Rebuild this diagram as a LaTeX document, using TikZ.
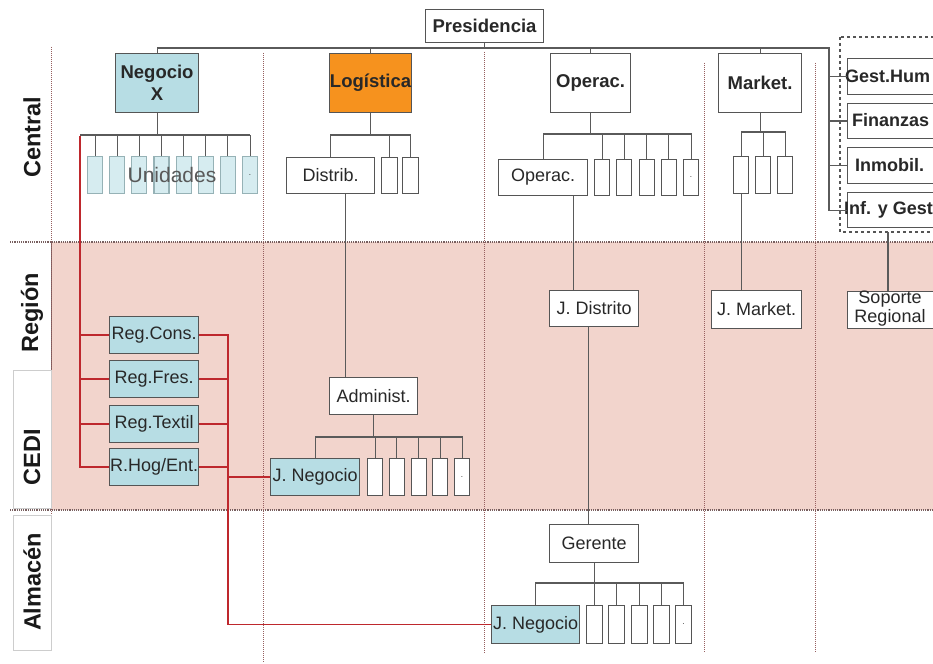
\documentclass[tikz,border=0pt]{standalone}
\usepackage{fontspec}
\setmainfont{Liberation Sans}
\newcommand{\regfont}{\fontsize{18}{20}\selectfont}
\newcommand{\boldfont}{\fontsize{18.5}{22}\selectfont\bfseries}
\newcommand{\sidefont}{\fontsize{18}{20}\selectfont\bfseries}
\newcommand{\labfont}{\fontsize{23.5}{25}\selectfont\bfseries}
\definecolor{boxc}{RGB}{85,85,85}
\definecolor{linec}{RGB}{90,90,90}
\definecolor{txt}{RGB}{40,40,40}
\definecolor{lblue}{RGB}{183,221,228}
\definecolor{fblue}{RGB}{214,236,240}
\definecolor{fborder}{RGB}{150,178,182}
\definecolor{orng}{RGB}{246,146,30}
\definecolor{pinkband}{RGB}{242,212,204}
\definecolor{redc}{RGB}{190,40,45}
\definecolor{sepc}{RGB}{150,95,95}
\definecolor{bandline}{RGB}{120,95,95}
\definecolor{labc}{RGB}{205,205,205}
\tikzset{
  box/.style={draw=boxc, line width=1.1pt, fill=white, inner sep=0pt,
    anchor=north west, text=txt, font=\regfont, align=center},
  bbox/.style={box, font=\boldfont},
  slot/.style={box, minimum width=15pt, minimum height=37pt},
  unit/.style={slot, draw=fborder, fill=fblue},
  conn/.style={draw=linec, line width=1.1pt},
  redl/.style={draw=redc, line width=1.6pt},
  sepline/.style={draw=sepc, line width=1pt, densely dotted},
  bandl/.style={draw=bandline, line width=1.2pt, densely dotted},
  lab/.style={font=\labfont, text=black!90, rotate=90, inner sep=0pt},
  sidetxt/.style={font=\sidefont, text=txt, anchor=west, inner sep=0pt},
}
\begin{document}
\begin{tikzpicture}[x=1pt,y=-1pt]
\useasboundingbox (0,0) rectangle (933,663);
\clip (0,0) rectangle (933,663);
\fill[white] (0,0) rectangle (933,663);

% regional / CEDI band
\fill[pinkband] (51,242) rectangle (940,510);
\draw[bandl] (10,242) -- (940,242);
\draw[bandl] (10,510) -- (940,510);
\draw[line width=1pt, bandline] (51,242) -- (51,510);

% column separators
\draw[sepline] (51,47) -- (51,647);
\draw[sepline] (263,53) -- (263,663);
\draw[sepline] (484,52) -- (484,653);
\draw[sepline] (704,63) -- (704,653);
\draw[sepline] (815,63) -- (815,653);

% level labels
\draw[labc, line width=1pt] (13,370) rectangle (51,508);
\draw[labc, line width=1pt] (13,515) rectangle (51,650);
\node[lab] (lcentral) at (32,137) {Central};
\node[lab] (lregion) at (32,313) {Región};
\node[lab] (lcedi) at (32,457) {CEDI};
\node[lab] (lalmacen) at (32,582) {Almacén};

% top level
\node[bbox, minimum width=118pt, minimum height=33pt] (pres) at (425,9) {Presidencia};
\node[bbox, fill=lblue, minimum width=83pt, minimum height=59pt] (negx) at (115,53) {Negocio\\X};
\node[bbox, fill=orng, minimum width=82pt, minimum height=59pt] (log) at (329,53) {Logística};
\node[bbox, minimum width=80pt, minimum height=59pt] (ope) at (550,53) {Operac.};
\node[bbox, minimum width=83pt, minimum height=59pt] (mkt) at (718,53) {Market.};

% support functions
\draw[boxc, line width=1.1pt, dashed] (840,37) rectangle (950,232);
\node[box, minimum width=100pt, minimum height=36pt] (gh) at (847,58) {};
\node[box, minimum width=100pt, minimum height=35pt] (fin) at (847,103) {};
\node[box, minimum width=100pt, minimum height=36pt] (inm) at (847,147) {};
\node[box, minimum width=100pt, minimum height=35pt] (inf) at (847,192) {};
\node[sidetxt] (ghtxt) at (845,76) {Gest.Hum};
\node[sidetxt] (fintxt) at (852,120.5) {Finanzas};
\node[sidetxt] (inmtxt) at (855,165) {Inmobil.};
\node[sidetxt] (inftxt) at (844,209.5) {Inf. y Gest};

% presidency bus
\coordinate (rb) at (829,48);
\draw[conn] (pres.south) -- (pres.south |- rb);
\draw[conn] (negx.north) |- (rb) |- (inf.west);
\draw[conn] (log.north) -- (log.north |- rb);
\draw[conn] (ope.north) -- (ope.north |- rb);
\draw[conn] (mkt.north) -- (mkt.north |- rb);
\draw[conn] (rb |- gh.west) -- (gh.west);
\draw[conn] (rb |- fin.west) -- (fin.west);
\draw[conn] (rb |- inm.west) -- (inm.west);

% business units
\foreach \i in {1,...,7}
  \node[unit] (u\i) at ({87+22.14*(\i-1)},156) {};
\node[unit, font=\fontsize{8}{8}\selectfont] (u8) at (242,156) {.};
\coordinate (nxl) at (80,135);
\draw[conn] (negx.south) -- (negx.south |- nxl);
\draw[conn] (nxl) -- (u8.north |- nxl);
\foreach \i in {1,...,8}
  \draw[conn] (u\i.north) -- (u\i.north |- nxl);
\node[font=\fontsize{21}{22}\selectfont, text=black!65, inner sep=0pt] (unid) at (172,175) {Unidades};

% logistics
\node[box, minimum width=88pt, minimum height=36pt] (distrib) at (286,157) {Distrib.};
\node[slot, minimum width=16pt, minimum height=36pt] (l1) at (381,157) {};
\node[slot, minimum width=16pt, minimum height=36pt] (l2) at (402,157) {};
\coordinate (lgb) at (0,135);
\draw[conn] (log.south) -- (log.south |- lgb);
\draw[conn] (distrib.north) |- (l2.north |- lgb) -- (l2.north);
\draw[conn] (l1.north) -- (l1.north |- lgb);

\node[box, minimum width=88pt, minimum height=37pt] (adm) at (329,377) {Administ.};
\draw[conn] ([xshift=15pt]distrib.south) -- ([xshift=15pt]distrib.south |- adm.north);

\node[box, fill=lblue, minimum width=89pt, minimum height=37pt] (jneg1) at (270,458) {J. Negocio};
\foreach \i in {1,...,4}
  \node[slot] (a\i) at ({367+21.75*(\i-1)},458) {};
\node[slot, font=\fontsize{8}{8}\selectfont] (a5) at (454,458) {.};
\coordinate (adb) at (0,437);
\draw[conn] (adm.south) -- (adm.south |- adb);
\draw[conn] (jneg1.north) |- (a5.north |- adb) -- (a5.north);
\foreach \i in {1,...,4}
  \draw[conn] (a\i.north) -- (a\i.north |- adb);

% operations
\node[box, minimum width=89pt, minimum height=36pt] (ope2) at (498,159) {Operac.};
\foreach \i in {1,...,4}
  \node[slot, minimum height=36pt] (o\i) at ({594+22.25*(\i-1)},159) {};
\node[slot, minimum height=36pt, font=\fontsize{8}{8}\selectfont] (o5) at (683,159) {.};
\coordinate (opb) at (0,134);
\draw[conn] (ope.south) -- (ope.south |- opb);
\draw[conn] (ope2.north) |- (o5.north |- opb) -- (o5.north);
\foreach \i in {1,...,4}
  \draw[conn] (o\i.north) -- (o\i.north |- opb);

\node[box, minimum width=89pt, minimum height=36pt] (jdist) at (549,290) {J. Distrito};
\draw[conn] ([xshift=30pt]ope2.south) -- ([xshift=30pt]ope2.south |- jdist.north);

\node[box, minimum width=89pt, minimum height=38pt] (ger) at (549,524) {Gerente};
\draw[conn] ([xshift=-6pt]jdist.south) -- ([xshift=-6pt]jdist.south |- ger.north);

\node[box, fill=lblue, minimum width=88pt, minimum height=38pt] (jneg2) at (491,605) {J. Negocio};
\foreach \i in {1,...,4}
  \node[slot, minimum width=16pt, minimum height=38pt] (g\i) at ({586+22.25*(\i-1)},605) {};
\node[slot, minimum width=16pt, minimum height=38pt, font=\fontsize{8}{8}\selectfont] (g5) at (675,605) {.};
\coordinate (grb) at (0,583);
\draw[conn] (ger.south) -- (ger.south |- grb);
\draw[conn] (jneg2.north) |- (g5.north |- grb) -- (g5.north);
\foreach \i in {1,...,4}
  \draw[conn] (g\i.north) -- (g\i.north |- grb);

% marketing
\node[slot] (m1) at (733,156) {};
\node[slot] (m2) at (755,156) {};
\node[slot] (m3) at (777,156) {};
\coordinate (mkb) at (0,132);
\draw[conn] (mkt.south) -- (mkt.south |- mkb);
\draw[conn] (m1.north) |- (m3.north |- mkb) -- (m3.north);
\draw[conn] (m2.north) -- (m2.north |- mkb);
\node[box, minimum width=90pt, minimum height=38pt] (jmkt) at (711,290) {J. Market.};
\draw[conn] (m1.south) -- (m1.south |- jmkt.north);

% regional support
\node[box, minimum width=100pt, minimum height=37pt] (sop) at (847,291) {};
\node[font=\regfont, text=txt, align=center, inner sep=0pt] (soptxt) at (890,309) {Soporte\\[-1pt]Regional};
\draw[conn] (888,232) coordinate (supb) -- (supb |- sop.north);

% regional category managers
\node[box, fill=lblue, minimum width=89pt, minimum height=37pt] (reg1) at (109,316) {Reg.Cons.};
\node[box, fill=lblue, minimum width=89pt, minimum height=37pt] (reg2) at (109,360) {Reg.Fres.};
\node[box, fill=lblue, minimum width=89pt, minimum height=37pt] (reg3) at (109,405) {Reg.Textil};
\node[box, fill=lblue, minimum width=89pt, minimum height=37pt] (reg4) at (109,448) {R.Hog/Ent.};

\draw[redl] ([yshift=-1pt]nxl) |- (reg4.west);
\draw[redl] (nxl |- reg1.west) -- (reg1.west);
\draw[redl] (nxl |- reg2.west) -- (reg2.west);
\draw[redl] (nxl |- reg3.west) -- (reg3.west);
\draw[redl] (reg1.east) -- ++(29,0) coordinate (rtop) |- (jneg2.west);
\draw[redl] (reg2.east) -- (reg2.east -| rtop);
\draw[redl] (reg3.east) -- (reg3.east -| rtop);
\draw[redl] (reg4.east) -- (reg4.east -| rtop);
\draw[redl] (rtop |- jneg1.west) -- (jneg1.west);
\end{tikzpicture}
\end{document}
